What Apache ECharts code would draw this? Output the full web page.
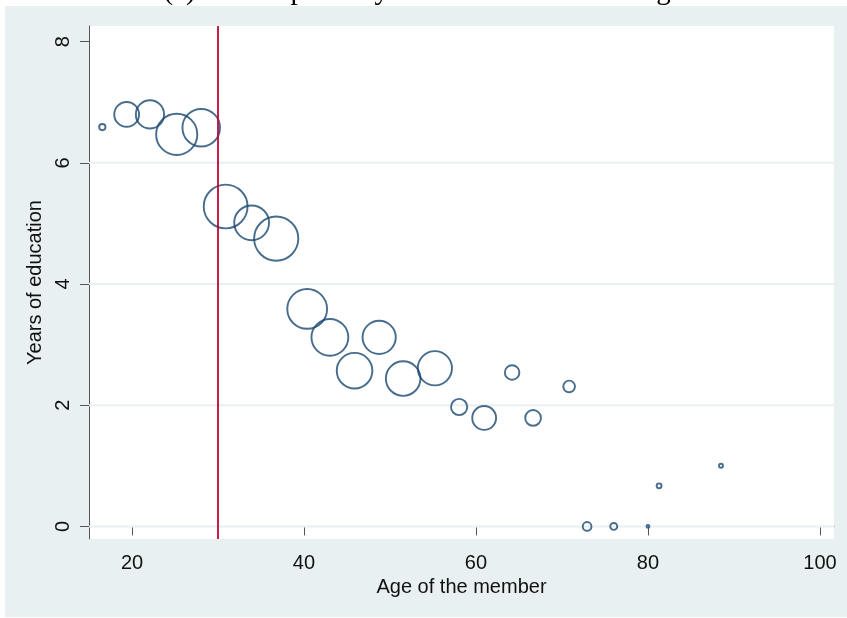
<!DOCTYPE html>
<html>
<head>
<meta charset="utf-8">
<script src="https://cdn.jsdelivr.net/npm/echarts@6/dist/echarts.min.js"></script>
<style>
  html, body { margin: 0; padding: 0; background: #ffffff; }
  #chart { width: 847px; height: 618px; }
</style>
</head>
<body>
<div id="chart"></div>
<script>
// Age of the member (x), mean years of education (y), and members per age group (bubble weight)
const ages = [16.55, 19.38, 22.09, 25.20, 28.05, 30.89, 33.91, 36.77, 40.37, 43.01,
              45.88, 48.74, 51.53, 55.22, 58.04, 60.95, 64.20, 66.64, 70.83, 72.92,
              76.02, 80.00, 81.29, 88.49];
const eduYears = [6.59, 6.80, 6.80, 6.47, 6.58, 5.28, 5.01, 4.75, 3.59, 3.12,
                  2.57, 3.12, 2.44, 2.61, 1.97, 1.79, 2.54, 1.79, 2.31, 0.00,
                  0.00, 0.00, 0.67, 1.00];
const members = [10, 154, 199, 424, 353, 480, 303, 488, 396, 339,
                 317, 276, 299, 292, 66, 142, 53, 62, 34, 19,
                 12, 2, 6, 4];

const xTicks = [20, 40, 60, 80, 100];
const yTicks = [0, 2, 4, 6, 8];
const yGridValues = [0, 2, 4, 6];
const cutoffAge = 30;

const xMin = 15, xMax = 101.63;
const yMin = -0.208, yMax = 8.259;

const points = ages.map((a, i) => [a, eduYears[i]]);

const chart = echarts.init(document.getElementById('chart'), null, { renderer: 'canvas' });

const axisColor = '#555555';
const labelFont = 'Liberation Sans';

// one flat line series per horizontal grid value, drawn beneath the bubbles
const gridSeries = yGridValues.map(v => ({
  type: 'line',
  z: 1,
  silent: true,
  symbol: 'none',
  data: [[xMin, v], [xMax, v]],
  lineStyle: { color: '#e8f0f2', width: 2 }
}));

chart.setOption({
  animation: false,
  backgroundColor: '#ffffff',
  title: {
    text: '(c) Scatter plot of years of education and age',
    left: 'center',
    top: -28,
    textStyle: { fontFamily: 'Liberation Serif', fontSize: 29, fontWeight: 'normal', color: '#000000' }
  },
  graphic: [{
    type: 'rect',
    z: -100,
    silent: true,
    shape: { x: 5, y: 6, width: 842, height: 611 },
    style: { fill: '#e8f0f2' }
  }],
  grid: {
    left: 89, right: 13, top: 26, bottom: 79,
    show: true, backgroundColor: '#ffffff', borderWidth: 0
  },
  xAxis: {
    type: 'value',
    min: xMin, max: xMax,
    name: 'Age of the member',
    nameLocation: 'middle',
    nameGap: 33,
    nameTextStyle: { fontFamily: labelFont, fontSize: 20, color: '#111111' },
    axisLine: { show: true, lineStyle: { color: axisColor, width: 1 } },
    axisTick: { show: true, length: 9, customValues: xTicks, lineStyle: { color: axisColor } },
    axisLabel: { customValues: xTicks, margin: 14, fontFamily: labelFont, fontSize: 20, color: '#111111' },
    splitLine: { show: false }
  },
  yAxis: {
    type: 'value',
    min: yMin, max: yMax,
    name: 'Years of education',
    nameLocation: 'middle',
    nameGap: 41,
    nameTextStyle: { fontFamily: labelFont, fontSize: 20, color: '#111111' },
    axisLine: { show: true, lineStyle: { color: axisColor, width: 1 } },
    axisTick: { show: true, length: 9, customValues: yTicks, lineStyle: { color: axisColor } },
    axisLabel: { customValues: yTicks, rotate: 90, margin: 16, fontFamily: labelFont, fontSize: 20, color: '#111111' },
    splitLine: { show: false }
  },
  series: gridSeries.concat([
    {
      type: 'scatter',
      z: 3,
      data: points,
      symbol: 'circle',
      symbolSize: (val, params) => 2 * Math.sqrt(members[params.dataIndex]),
      itemStyle: { color: 'rgba(0,0,0,0)', borderColor: '#1a476f', borderWidth: 1.9 },
      markLine: {
        silent: true,
        symbol: ['none', 'none'],
        label: { show: false },
        lineStyle: { color: '#c10534', width: 1.8, type: 'solid' },
        data: [{ xAxis: cutoffAge }]
      }
    }
  ])
});
</script>
</body>
</html>
